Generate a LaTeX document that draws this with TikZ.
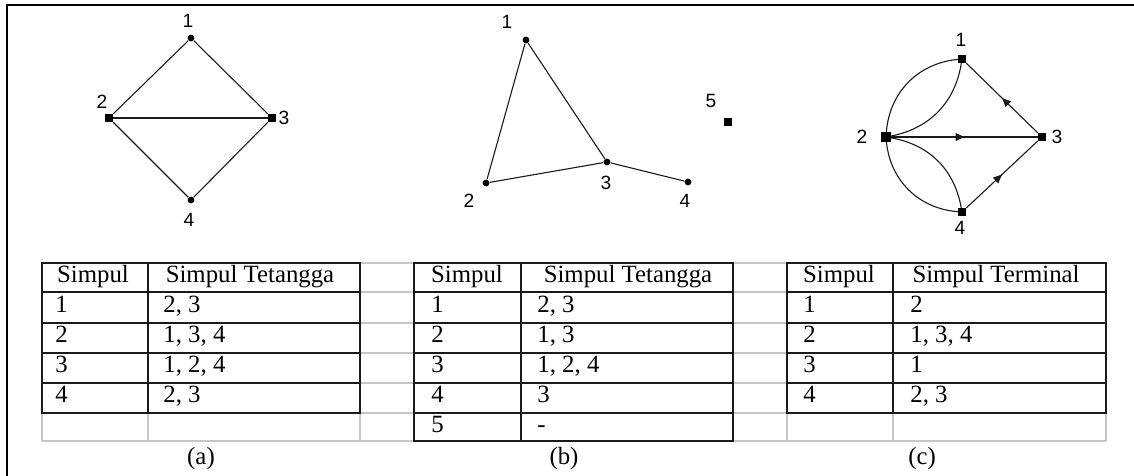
\documentclass[tikz,border=0pt]{standalone}
\usepackage{fontspec}
\setmainfont{Liberation Serif}
\newfontfamily\arialfont{Liberation Sans}
\usetikzlibrary{arrows.meta, decorations.markings}
\definecolor{garis}{HTML}{1A1A1A}
\definecolor{abu}{HTML}{C6C6C6}

\begin{document}
\begin{tikzpicture}[
  x=0.5pt, y=-0.5pt,
  font=\fontsize{12.4}{14}\selectfont,
  % simpul graf : titik bulat atau kotak kecil
  titik/.style={circle, fill=black, inner sep=0pt, minimum size=3.4pt},
  kotak/.style={rectangle, fill=black, inner sep=0pt, minimum size=3.8pt},
  nomor/.style={font=\arialfont\fontsize{9.6}{10}\selectfont, inner sep=0pt},
  sisi/.style={draw=garis, line width=0.55pt},
  busur/.style={sisi, postaction={decorate},
                decoration={markings, mark=at position 0.5 with
                  {\arrow{Triangle[length=4.4pt, width=3.8pt]}}}},
  kepala/.style={anchor=base, inner sep=0pt},
  isi/.style={anchor=base west, inner sep=0pt},
  tepi/.style={draw=garis, line width=1pt},
  kisi/.style={draw=abu, line width=1pt},
  judul/.style={inner sep=0pt},
]
\useasboundingbox (0,0) rectangle (1134,476);
% ---- bingkai
\draw[line width=1.2pt] (7,476) -- (7,5) -- (1134,5);
% ---- graf (a)
\node[titik] (a1) at (191,38) {};
\node[kotak] (a2) at (109,118) {};
\node[kotak] (a3) at (272,118) {};
\node[titik] (a4) at (191,200) {};
\node[nomor] (a1l) at (188,21) {1};
\node[nomor] (a2l) at (102,102) {2};
\node[nomor] (a3l) at (284,118) {3};
\node[nomor] (a4l) at (189,220) {4};
\draw[sisi] (a1) -- (a2);
\draw[sisi] (a1) -- (a3);
\draw[sisi] (a2) -- (a3);
\draw[sisi] (a2) -- (a4);
\draw[sisi] (a3) -- (a4);
% ---- graf (b)
\node[titik] (b1) at (526,40) {};
\node[titik] (b2) at (486,183) {};
\node[titik] (b3) at (607,162) {};
\node[titik] (b4) at (688,182) {};
\node[kotak] (b5) at (728,122) {};
\node[nomor] (b1l) at (507,22) {1};
\node[nomor] (b2l) at (469,201) {2};
\node[nomor] (b3l) at (606,183) {3};
\node[nomor] (b4l) at (685,201) {4};
\node[nomor] (b5l) at (711,101) {5};
\draw[sisi] (b1) -- (b2);
\draw[sisi] (b1) -- (b3);
\draw[sisi] (b2) -- (b3);
\draw[sisi] (b3) -- (b4);
% ---- graf berarah (c)
\node[kotak] (c1) at (962,59) {};
\node[kotak, minimum size=4.8pt] (c2) at (886,137) {};
\node[kotak] (c3) at (1042,137) {};
\node[kotak] (c4) at (962,212) {};
\node[nomor] (c1l) at (961,40) {1};
\node[nomor] (c2l) at (862,137) {2};
\node[nomor] (c3l) at (1057,137) {3};
\node[nomor] (c4l) at (960,228) {4};
\draw[sisi] (c2) to[bend left=40] (c1);
\draw[sisi] (c2) to[bend right=35] (c1);
\draw[sisi] (c2) to[bend right=40] (c4);
\draw[sisi] (c2) to[bend left=35] (c4);
\draw[busur] (c2) -- (c3);
\draw[busur] (c3) -- (c1);
\draw[busur] (c4) -- (c3);
% ---- kisi abu-abu tabel
\draw[kisi] (42,263) -- (1106,263) (42,292) -- (1106,292)
  (42,323) -- (1106,323) (42,353) -- (1106,353) (42,383) -- (1106,383)
  (42,413) -- (1106,413) (42,441) -- (1106,441);
\draw[kisi] (42,263) -- (42,441) (148,263) -- (148,441) (360,263) -- (360,441)
  (414,263) -- (414,441) (521,263) -- (521,441) (733,263) -- (733,441)
  (787,263) -- (787,441) (893,263) -- (893,441) (1106,263) -- (1106,441);
% ---- garis tepi tabel
\draw[tepi] (42,263) rectangle (360,413) (148,263) -- (148,413)
  (42,292) -- (360,292) (42,323) -- (360,323) (42,353) -- (360,353)
  (42,383) -- (360,383);
\draw[tepi] (414,263) rectangle (733,441) (521,263) -- (521,441)
  (414,292) -- (733,292) (414,323) -- (733,323) (414,353) -- (733,353)
  (414,383) -- (733,383) (414,413) -- (733,413);
\draw[tepi] (787,263) rectangle (1106,413) (893,263) -- (893,413)
  (787,292) -- (1106,292) (787,323) -- (1106,323) (787,353) -- (1106,353)
  (787,383) -- (1106,383);
% ---- isi tabel (a)
\node[kepala] (ta0a) at (93,282) {Simpul};
\node[kepala] (ta0b) at (250,282) {Simpul Tetangga};
\node[isi] (ta1a) at (55,312) {1};
\node[isi] (ta1b) at (163,312) {2, 3};
\node[isi] (ta2a) at (55,342) {2};
\node[isi] (ta2b) at (163,342) {1, 3, 4};
\node[isi] (ta3a) at (55,372) {3};
\node[isi] (ta3b) at (163,372) {1, 2, 4};
\node[isi] (ta4a) at (55,402) {4};
\node[isi] (ta4b) at (163,402) {2, 3};
% ---- isi tabel (b)
\node[kepala] (tb0a) at (467,282) {Simpul};
\node[kepala] (tb0b) at (628,282) {Simpul Tetangga};
\node[isi] (tb1a) at (431,312) {1};
\node[isi] (tb1b) at (537,312) {2, 3};
\node[isi] (tb2a) at (431,342) {2};
\node[isi] (tb2b) at (537,342) {1, 3};
\node[isi] (tb3a) at (431,372) {3};
\node[isi] (tb3b) at (537,372) {1, 2, 4};
\node[isi] (tb4a) at (431,402) {4};
\node[isi] (tb4b) at (537,402) {3};
\node[isi] (tb5a) at (431,432) {5};
\node[isi] (tb5b) at (537,432) {-};
% ---- isi tabel (c)
\node[kepala] (tc0a) at (839,282) {Simpul};
\node[kepala] (tc0b) at (996,282) {Simpul Terminal};
\node[isi] (tc1a) at (803,312) {1};
\node[isi] (tc1b) at (910,312) {2};
\node[isi] (tc2a) at (803,342) {2};
\node[isi] (tc2b) at (910,342) {1, 3, 4};
\node[isi] (tc3a) at (803,372) {3};
\node[isi] (tc3b) at (910,372) {1};
\node[isi] (tc4a) at (803,402) {4};
\node[isi] (tc4b) at (910,402) {2, 3};
% ---- keterangan
\node[judul] (ka) at (201,459) {(a)};
\node[judul] (kb) at (564,459) {(b)};
\node[judul] (kc) at (922,459) {(c)};
\end{tikzpicture}
\end{document}
